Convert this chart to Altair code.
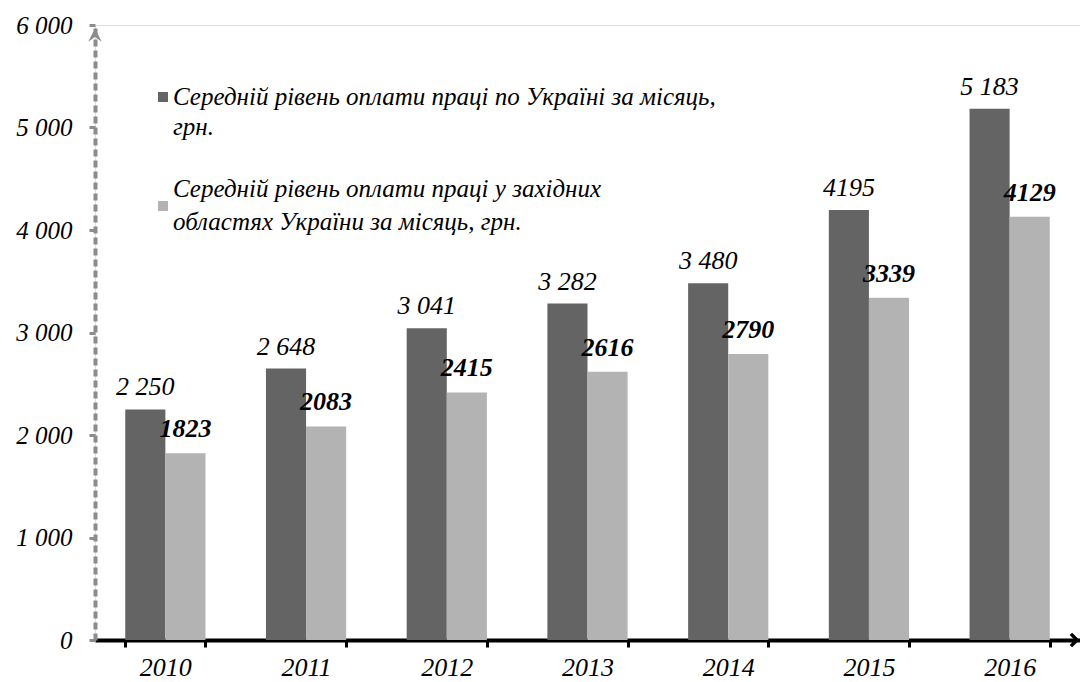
import altair as alt
import pandas as pd

years = ["2010", "2011", "2012", "2013", "2014", "2015", "2016"]
ukraine = [2250, 2648, 3041, 3282, 3480, 4195, 5183]
west = [1823, 2083, 2415, 2616, 2790, 3339, 4129]
ukraine_labels = ["2 250", "2 648", "3 041", "3 282", "3 480", "4195", "5 183"]
west_labels = ["1823", "2083", "2415", "2616", "2790", "3339", "4129"]
series = ["Україна", "Західні області"]
legend_lines = [
    "Середній рівень оплати праці по Україні за місяць,\nгрн.",
    "Середній рівень оплати праці у західних\nобластях України за місяць, грн.",
]
colors = ["#646464", "#b3b3b3"]
y_ticks = [0, 1000, 2000, 3000, 4000, 5000, 6000]

W, H = 985, 615
FONT = "Liberation Serif"

rows = []
for i, yr in enumerate(years):
    rows.append({"year": yr, "series": series[0], "value": ukraine[i], "label": ukraine_labels[i]})
    rows.append({"year": yr, "series": series[1], "value": west[i], "label": west_labels[i]})
df = pd.DataFrame(rows)

x_enc = alt.X(
    "year:N",
    sort=years,
    scale=alt.Scale(paddingInner=0.43, paddingOuter=0.215),
    axis=alt.Axis(
        title=None, labelAngle=0, tickBand="extent", grid=False,
        domainColor="black", domainWidth=4, tickColor="black", tickWidth=3, tickSize=7,
        labelFont=FONT, labelFontStyle="italic", labelFontSize=26, labelColor="black",
        labelPadding=7,
    ),
)
xoff = alt.XOffset("series:N", sort=series, scale=alt.Scale(domain=series, paddingInner=0, paddingOuter=0))
y_enc = alt.Y(
    "value:Q",
    scale=alt.Scale(domain=[0, 6000], nice=False),
    axis=alt.Axis(
        title=None, values=y_ticks, grid=False,
        labelExpr="replace(format(datum.value, ','), ',', ' ')",
        domainColor="#8c8c8c", domainWidth=4, domainDash=[7, 4],
        tickColor="#8c8c8c", tickWidth=3, tickSize=6,
        labelFont=FONT, labelFontStyle="italic", labelFontSize=25, labelColor="black",
        labelPadding=17,
    ),
)
color_enc = alt.Color("series:N", scale=alt.Scale(domain=series, range=colors), legend=None)

base = alt.Chart(df)
bars = base.mark_bar().encode(x=x_enc, xOffset=xoff, y=y_enc, color=color_enc)

txt_a = base.transform_filter(alt.datum.series == series[0]).mark_text(
    font=FONT, fontStyle="italic", fontSize=26, color="black", baseline="bottom", dy=-9
).encode(x=x_enc, xOffset=xoff, y=y_enc, text="label:N")
txt_b = base.transform_filter(alt.datum.series == series[1]).mark_text(
    font=FONT, fontStyle="italic", fontWeight="bold", fontSize=26, color="black", baseline="bottom", dy=-11
).encode(x=x_enc, xOffset=xoff, y=y_enc, text="label:N")

one = pd.DataFrame({"k": [0]})
leg_sq1 = alt.Chart(one).mark_square(size=100, color=colors[0], opacity=1).encode(x=alt.value(68), y=alt.value(72))
leg_sq2 = alt.Chart(one).mark_square(size=100, color=colors[1], opacity=1).encode(x=alt.value(68), y=alt.value(181))
leg_t1 = alt.Chart(one).mark_text(
    text=legend_lines[0], lineBreak="\n", lineHeight=30, align="left", baseline="middle",
    font=FONT, fontStyle="italic", fontSize=25, color="black"
).encode(x=alt.value(78), y=alt.value(72))
leg_t2 = alt.Chart(one).mark_text(
    text=legend_lines[1], lineBreak="\n", lineHeight=33, align="left", baseline="middle",
    font=FONT, fontStyle="italic", fontSize=25, color="black"
).encode(x=alt.value(78), y=alt.value(164))

arrow_x = alt.Chart(one).mark_point(
    shape="M -1 -1 L 0 0 L -1 1", filled=False, stroke="black", strokeWidth=3.5, size=150, opacity=1
).encode(x=alt.value(W - 3), y=alt.value(H))
arrow_y = alt.Chart(one).mark_point(
    shape="M 0 -1 L 1 1 L 0 0.3 L -1 1 Z", filled=True, fill="#8c8c8c", strokeWidth=0, size=180, opacity=1
).encode(x=alt.value(0), y=alt.value(10))

chart = alt.layer(bars, txt_a, txt_b, leg_sq1, leg_sq2, leg_t1, leg_t2, arrow_x, arrow_y).properties(
    width=W, height=H,
    autosize=alt.AutoSizeParams(type="none"),
    padding={"left": 87, "top": 17, "right": 0, "bottom": 40},
).configure_view(strokeWidth=0, stroke="transparent", fill="white").configure_axis(
    grid=False
).configure(background="white")

chart.save("out.html", embed_options={"renderer": "svg", "actions": False})
